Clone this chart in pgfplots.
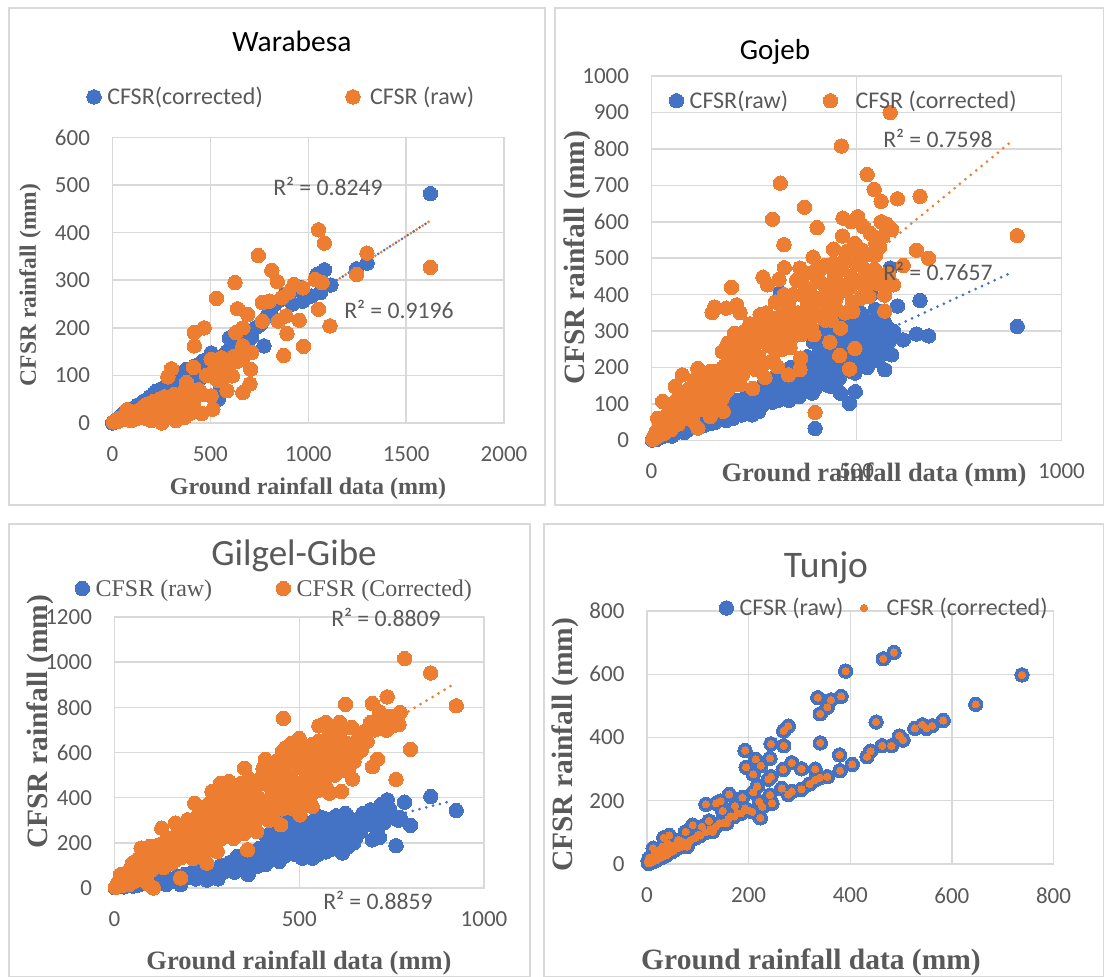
\documentclass[border=0pt]{standalone}
\usepackage{fontspec}
\setmainfont{Carlito}
\newfontfamily\tms{Liberation Serif}
\usepackage{pgfplots}
\usepackage{pgfplotstable}
\pgfplotsset{compat=1.18}
\definecolor{xblue}{HTML}{4472C4}
\definecolor{xor}{HTML}{ED7D31}
\definecolor{xgrid}{HTML}{D9D9D9}
\definecolor{xtxt}{HTML}{595959}
\pgfplotstableread[row sep=\\]{
x y\\ 738 598\\ 647 505\\ 583 454\\ 561 437\\ 550 429\\ 542 440\\ 527 429\\ 504 392\\ 497 405\\ 481 374\\ 463 374\\ 440 357\\ 433 339\\ 404 315\\ 380 295\\ 355 276\\ 340 273\\ 331 266\\ 320 253\\ 304 236\\ 285 229\\ 278 220\\ 486 669\\ 465 649\\ 391 610\\ 336 526\\ 382 530\\ 362 519\\ 355 496\\ 341 475\\ 451 449\\ 278 436\\ 269 421\\ 244 380\\ 269 374\\ 341 383\\ 379 345\\ 193 359\\ 214 331\\ 242 334\\ 224 311\\ 195 306\\ 209 284\\ 285 320\\ 304 301\\ 331 300\\ 268 299\\ 244 276\\ 239 268\\ 217 245\\ 209 227\\ 265 239\\ 242 218\\ 221 197\\ 246 192\\ 227 181\\ 223 146\\ 207 165\\ 193 176\\ 188 210\\ 162 220\\ 145 199\\ 116 189\\ 136 192\\ 149 168\\ 173 183\\ 178 160\\ 164 150\\ 143 129\\ 122 136\\ 108 118\\ 90 123\\ 76 102\\ 44 90\\ 33 83\\ 62 76\\ 86 76\\ 101 92\\ 129 102\\ 157 129\\ 79 55\\ 12 50\\ 5 5\\ 10 10\\ 8 20\\ 15 30\\ 20 25\\ 25 45\\ 30 30\\ 35 50\\ 40 40\\ 45 60\\ 50 50\\ 55 60\\ 20 15\\ 3 2\\ 12 8\\ 28 20\\ 38 28\\ 48 38\\ 60 50\\ 65 65\\ 70 70\\ 30 55\\ 40 65\\ 15 40\\ 5 20\\ 2 10\\ 7 4\\ 14 16\\ 18 12\\ 23 18\\ 26 32\\ 32 24\\ 36 38\\ 42 34\\ 46 48\\ 52 42\\ 57 50\\ 63 58\\ 68 55\\ 75 62\\ 82 68\\ 95 82\\ 105 90\\ 115 100\\ 125 110\\ 135 118\\ 150 130\\ 160 142\\ 172 150\\ 185 160\\ 198 170\\ 
}\tunjo
\pgfplotsset{
  panel/.style={
    scale only axis, clip=false, axis on top=false,
    axis line style={xgrid,line width=1.5pt},
    grid=major, major grid style={xgrid,line width=1.5pt},
    major tick length=0pt,
    tick label style={font=\fontsize{23}{26}\selectfont,text=xtxt},
    /pgf/number format/assume math mode=true,
    /pgf/number format/1000 sep={},
    scaled ticks=false,
    xticklabel shift=20pt, yticklabel shift=19pt,
    legend cell align=left,
    legend style={draw=none,fill=none,font=\fontsize{24}{27}\selectfont,text=xtxt,
      inner sep=0pt,anchor=west,/tikz/every odd column/.append style={column sep=4pt}},
  },
  blue dots/.style={only marks,mark=*,mark size=7.2pt,mark options={fill=xblue,draw=xblue,line width=0pt}},
  or dots/.style={only marks,mark=*,mark size=7.2pt,mark options={fill=xor,draw=xor,line width=0pt}},
  small or/.style={only marks,mark=*,mark size=3.6pt,mark options={fill=xor,draw=xor,line width=0pt}},
  trend/.style={no marks,line width=3pt,dash pattern=on 0pt off 7pt,line cap=round},
}
\newcommand{\rtxt}[3]{\node[text=xtxt,font=\fontsize{23.7}{26}\selectfont] at (#1pt,{(977-#2)*1pt}) {#3};}
\newcommand{\xlab}[4]{\node[text=xtxt,font={\tms\bfseries\fontsize{#4}{28}\selectfont}] at (#1pt,{(977-#2)*1pt}) {#3};}
\newcommand{\ylab}[4]{\node[rotate=90,text=xtxt,font={\tms\bfseries\fontsize{#4}{28}\selectfont}] at (#1pt,{(977-#2)*1pt}) {#3};}
\begin{document}
\begin{tikzpicture}
\path[use as bounding box] (0,0) rectangle (1104pt,977pt);
\draw[xgrid,line width=1.5pt] (9pt,{(977-8)*1pt}) rectangle (545pt,{(977-505)*1pt});
\draw[xgrid,line width=1.5pt] (555pt,{(977-8)*1pt}) rectangle (1104pt,{(977-505)*1pt});
\draw[xgrid,line width=1.5pt] (9pt,{(977-524)*1pt}) rectangle (530pt,0pt);
\draw[xgrid,line width=1.5pt] (544pt,{(977-524)*1pt}) rectangle (1104pt,0pt);

% ---------- Warabesa
\begin{axis}[panel,at={(112.5pt,554pt)},anchor=south west,width=391.5pt,height=285.5pt,
  xmin=0,xmax=2000,ymin=0,ymax=600,xtick={0,500,1000,1500,2000},ytick={0,100,...,600},
  legend columns=2,legend style={at={(-0.066,1.142)},/tikz/every even column/.append style={column sep=81pt}}]
\addplot[blue dots] coordinates {(0,0)(10,3)(20,4)(30,10)(40,14)(55,20)(70,16)(85,28)(100,22)(115,33)(130,38)(145,30)(160,46)(175,38)(190,55)(205,45)(220,66)(235,50)(250,72)(265,60)(280,58)(300,75)(320,82)(340,70)(360,100)(378,113)(395,95)(420,120)(440,90)(460,130)(480,120)(504,147)(520,120)(540,50)(414,36)(550,80)(560,140)(585,150)(597,179)(612,155)(640,170)(660,190)(684,190)(710,180)(730,200)(756,207)(774,162)(790,225)(810,239)(830,250)(864,260)(880,270)(920,250)(950,280)(963,284)(972,256)(1017,267)(1044,312)(1062,274)(1083,322)(1116,290)(1247,324)(1301,336)(1624,482)};
\addlegendentry{CFSR(corrected)}
\addplot[or dots] coordinates {(5,2)(15,5)(25,3)(35,10)(45,6)(60,15)(70,20)(75,28)(85,10)(95,5)(105,18)(115,8)(125,25)(135,12)(150,20)(160,35)(170,10)(180,40)(190,25)(200,5)(210,45)(220,30)(230,15)(240,50)(250,35)(255,5)(265,55)(275,25)(285,45)(295,15)(305,40)(315,60)(325,30)(335,50)(345,20)(355,40)(365,65)(375,30)(385,45)(395,20)(400,70)(420,55)(440,70)(460,60)(480,100)(520,110)(545,130)(580,100)(600,125)(620,140)(640,130)(1624,327)(1053,406)(1082,378)(1300,357)(745,352)(814,321)(842,297)(626,295)(531,262)(639,240)(691,228)(765,214)(765,253)(801,256)(864,263)(900,274)(927,291)(972,284)(1035,302)(1071,295)(1247,312)(1053,239)(1111,204)(954,216)(891,188)(976,161)(875,142)(846,214)(886,225)(468,200)(418,190)(418,162)(666,200)(630,190)(666,162)(711,148)(666,134)(706,113)(702,82)(666,64)(585,68)(612,99)(576,120)(504,134)(558,137)(630,141)(414,117)(301,114)(283,97)(504,99)(540,89)(504,57)(513,29)(455,20)(432,64)(378,85)(378,50)(414,43)(306,57)(324,5)(369,12)(252,0)};
\addlegendentry{\hspace{4pt}CFSR (raw)}
\addplot[trend,xblue,forget plot] coordinates {(0,0)(1624,425)};
\addplot[trend,xor,forget plot,dash phase=3.5pt] coordinates {(0,0)(1624,425)};
\end{axis}
\node[font=\fontsize{29.5}{33}\selectfont] at (292pt,{(977-41)*1pt}) {Warabesa};
\rtxt{328}{186}{R² = 0.8249}
\rtxt{399}{309}{R² = 0.9196}
\xlab{308}{489}{Ground rainfall data (mm)}{24}
\ylab{30}{285}{CFSR rainfall (mm)}{23.5}

% ---------- Gojeb
\begin{axis}[panel,at={(651.5pt,536.5pt)},anchor=south west,width=410pt,height=364.5pt,
  xmin=0,xmax=1000,ymin=0,ymax=1000,xtick={0,500,1000},ytick={0,100,...,1000},
  legend columns=2,legend style={at={(0.043,0.932)},/tikz/every even column/.append style={column sep=33pt}}]
\addplot[blue dots] coordinates {(2,1)(8,4)(15,6)(25,10)(35,14)(45,22)(55,18)(65,28)(75,24)(85,38)(100,35)(113,34)(125,50)(143,46)(150,70)(165,60)(175,90)(182,55)(195,75)(205,110)(215,85)(230,100)(240,130)(250,95)(262,80)(264,212)(275,120)(285,150)(295,105)(305,130)(315,175)(320,115)(330,145)(340,200)(350,130)(360,120)(370,165)(380,230)(390,190)(400,145)(405,162)(410,250)(420,210)(430,180)(440,148)(445,270)(455,230)(461,130)(466,340)(470,290)(480,250)(483,102)(490,205)(497,134)(500,320)(510,270)(520,300)(530,223)(540,260)(550,335)(560,280)(569,194)(570,320)(575,250)(586,235)(600,369)(582,473)(614,276)(646,292)(655,384)(676,287)(892,313)(399,33)(314,406)(440,303)(496,185)(530,322)(564,331)(510,350)(480,310)(535,400)(455,320)(420,290)(395,270)
(12,3)(20,8)(30,12)(40,18)(50,12)(60,24)(70,30)(80,22)(90,30)(95,45)(108,40)(118,52)(130,42)(138,60)(155,50)(160,85)(172,65)(188,70)(198,60)(210,90)(220,70)(225,115)(235,85)(245,70)(255,110)(268,95)(272,150)(280,105)(290,125)(298,170)(308,110)(312,140)(325,125)(328,170)(335,110)(345,150)(348,190)(355,120)(365,180)(372,140)(378,200)(385,160)(392,130)(398,220)(402,180)(412,165)(418,240)(425,200)(432,150)(438,230)(446,190)(452,270)(458,170)(463,230)(468,210)(474,320)(478,280)(486,190)(494,240)(502,300)(506,220)(514,250)(522,330)(526,200)(532,290)(538,240)(546,310)(552,220)(558,290)(565,240)(572,300)(578,270)(590,300)(545,360)(525,280)(505,280)(485,330)(440,320)(430,260)(410,300)};
\addlegendentry{CFSR(raw)}
\addplot[trend,xor,forget plot] coordinates {(0,10)(882,824)};
\addplot[or dots] coordinates {(3,3)(6,12)(10,8)(12,25)(18,18)(20,40)(25,28)(27,107)(15,61)(30,55)(35,30)(40,75)(45,45)(50,95)(55,60)(58,148)(60,110)(65,45)(70,80)(75,180)(75,120)(85,70)(90,140)(95,100)(100,55)(105,165)(113,198)(113,34)(115,120)(125,85)(130,150)(135,175)(143,189)(143,66)(150,120)(155,95)(160,165)(148,351)(154,366)(165,140)(173,244)(175,80)(182,363)(185,195)(186,267)(195,420)(195,150)(202,294)(204,239)(208,372)(210,180)(216,351)(216,153)(225,265)(229,281)(234,212)(240,320)(247,143)(251,303)(255,194)(260,270)(265,345)(272,448)(277,173)(283,427)(285,310)(295,607)(298,331)(300,250)(307,203)(311,442)(314,706)(320,300)(323,537)(324,474)(330,360)(334,180)(340,280)(345,400)(350,330)(362,473)(362,194)(364,226)(365,290)(373,640)(375,420)(380,370)(390,310)(394,503)(399,77)(404,584)(405,440)(410,468)(420,380)(425,330)(435,270)(440,420)(444,525)(444,486)(459,233)(450,390)(461,308)(463,808)(466,561)(467,610)(470,495)(475,410)(483,196)(487,600)(487,450)(491,354)(496,253)(496,541)(500,482)(503,614)(510,390)(513,523)(517,587)(526,730)(530,431)(530,395)(534,568)(543,689)(547,541)(547,509)(560,656)(560,600)(560,454)(569,399)(569,355)(573,594)(582,900)(586,579)(590,427)(600,663)(614,480)(646,522)(655,670)(676,500)(892,562)
(20,15)(22,30)(32,20)(38,42)(42,62)(48,30)(52,50)(62,75)(68,55)(72,100)(78,90)(82,60)(88,110)(92,85)(98,125)(102,75)(108,145)(110,100)(118,90)(120,160)(128,110)(132,130)(138,100)(140,165)(146,140)(152,105)(158,190)(162,125)(168,170)(172,115)(178,205)(183,135)(188,225)(192,170)(198,250)(206,200)(212,280)(218,220)(222,180)(228,300)(232,250)(238,210)(244,270)(250,235)(256,320)(262,230)(268,290)(274,210)(280,350)(286,260)(292,300)(296,220)(302,380)(306,275)(312,340)(318,250)(324,400)(328,310)(334,370)(338,255)(344,330)(348,290)(354,440)(358,350)(366,400)(370,300)(376,460)(382,330)(386,410)(392,360)(396,290)(402,470)(408,390)(414,340)(418,430)(424,480)(428,370)(434,410)(438,330)(446,450)(452,360)(458,430)(464,470)(472,350)(478,520)(484,420)(490,380)(498,440)(506,500)(512,430)(520,470)(528,510)(536,440)(544,470)(552,430)(556,530)(564,560)(572,420)(578,460)(580,440)};
\addlegendentry{\hspace{12pt}CFSR (corrected)}
\addplot[trend,xblue,forget plot] coordinates {(0,5)(882,463)};
\end{axis}
\node[font=\fontsize{29}{33}\selectfont] at (775pt,{(977-52)*1pt}) {Gojeb};
\rtxt{938}{138}{R² = 0.7598}
\rtxt{938}{271}{R² = 0.7657}
\xlab{874}{475}{Ground rainfall data (mm)}{26.5}
\ylab{577}{258}{CFSR rainfall (mm)}{29.5}

% ---------- Gilgel-Gibe
\begin{axis}[panel,at={(114.5pt,89pt)},anchor=south west,width=369.5pt,height=271pt,
  xmin=0,xmax=1000,ymin=0,ymax=1200,xtick={0,500,1000},ytick={0,200,...,1200},
  legend columns=2,legend style={at={(-0.107,1.105)},font={\tms\fontsize{24}{27}\selectfont},/tikz/every even column/.append style={column sep=62pt}}]
\addplot[blue dots] coordinates {(2,1)(10,5)(20,8)(35,10)(45,15)(60,12)(75,25)(90,20)(105,30)(120,25)(140,15)(160,30)(179,15)(190,60)(205,50)(220,40)(235,80)(250,35)(265,70)(280,40)(295,90)(310,110)(325,70)(340,130)(350,85)(362,59)(375,150)(385,95)(400,160)(408,103)(420,190)(435,130)(446,118)(450,210)(465,170)(475,280)(490,240)(500,190)(508,132)(515,290)(525,220)(535,132)(545,280)(555,180)(565,310)(575,240)(585,170)(595,300)(605,220)(617,155)(625,330)(635,270)(647,199)(655,300)(665,250)(680,310)(693,346)(698,213)(705,340)(717,224)(725,330)(738,390)(750,320)(762,187)(773,312)(785,380)(801,277)(856,405)(925,343)(410,230)(430,260)(460,300)(480,200)(510,250)(520,150)(540,210)(560,260)(580,200)(600,270)(620,240)(640,240)(660,290)
(25,5)(50,8)(68,15)(80,30)(95,15)(112,25)(130,45)(150,40)(170,50)(198,45)(212,70)(228,65)(242,85)(255,70)(272,60)(288,100)(302,75)(315,115)(322,90)(332,140)(345,100)(358,120)(368,160)(380,125)(392,175)(402,140)(415,130)(425,200)(440,170)(452,240)(458,140)(470,230)(485,150)(495,260)(505,170)(512,210)(528,270)(532,170)(548,240)(552,150)(568,200)(572,280)(590,240)(598,190)(612,290)(622,210)(632,310)(642,260)(652,220)(668,270)(672,330)(685,280)(700,300)(712,260)(722,370)(730,290)(745,350)(755,310)(768,300)(630,180)(610,170)(572,160)(490,300)(548,320)(600,320)(520,250)};
\addlegendentry{CFSR (raw)}
\addplot[trend,xor,forget plot] coordinates {(0,0)(924,908)};
\addplot[or dots] coordinates {(3,3)(6,14)(10,25)(16,59)(20,10)(28,40)(35,70)(40,15)(49,110)(55,30)(60,85)(65,130)(72,177)(75,60)(85,110)(90,20)(95,184)(100,80)(105,0)(108,130)(115,160)(125,100)(128,265)(135,140)(137,206)(145,185)(155,110)(165,287)(170,170)(179,44)(180,135)(190,210)(198,302)(205,170)(217,375)(220,240)(231,280)(240,150)(245,320)(250,110)(254,371)(264,427)(270,280)(278,162)(287,464)(290,220)(296,420)(300,340)(310,471)(318,250)(330,300)(343,464)(343,383)(352,530)(355,280)(360,169)(370,350)(380,412)(385,250)(395,310)(399,493)(408,570)(415,380)(425,440)(441,383)(450,280)(455,606)(457,751)(465,500)(479,640)(485,420)(495,560)(500,662)(502,324)(510,470)(520,590)(530,420)(535,636)(535,361)(545,540)(553,718)(560,480)(572,733)(577,434)(584,692)(590,560)(600,633)(609,733)(614,427)(623,633)(625,813)(630,540)(642,711)(644,483)(661,633)(679,670)(693,733)(698,817)(698,537)(712,570)(717,780)(717,721)(736,699)(738,846)(762,481)(770,724)(773,777)(785,1016)(801,614)(856,952)(925,807)
(12,30)(22,25)(25,50)(30,20)(32,60)(38,45)(42,80)(46,30)(52,70)(56,100)(62,50)(68,90)(70,130)(78,85)(82,120)(88,60)(92,150)(98,110)(102,175)(110,95)(112,140)(118,190)(122,120)(130,165)(132,90)(140,130)(142,220)(148,170)(152,150)(158,200)(162,120)(168,235)(175,190)(178,150)(185,260)(188,210)(195,170)(200,270)(208,230)(212,130)(215,300)(222,200)(228,330)(234,240)(238,180)(242,290)(248,350)(252,210)(258,310)(262,260)(268,370)(272,200)(276,330)(282,250)(285,400)(292,300)(298,230)(302,370)(306,280)(312,430)(316,330)(322,220)(326,390)(335,280)(338,440)(346,340)(350,240)(358,410)(362,300)(366,480)(374,360)(378,290)(382,450)(390,400)(393,330)(402,530)(405,350)(412,460)(418,300)(422,510)(428,400)(432,340)(438,560)(442,460)(448,520)(453,350)(458,440)(462,620)(468,560)(472,400)(478,490)(483,350)(488,600)(492,460)(498,540)(504,420)(508,610)(512,380)(518,510)(524,570)(528,470)(532,370)(538,590)(542,500)(548,430)(552,650)(556,540)(562,610)(568,470)(574,560)(578,660)(582,420)(586,520)(592,620)(596,500)(604,570)(610,680)(616,520)(622,590)(628,640)(634,530)(638,620)(648,560)(654,650)(668,610)(672,690)(684,650)(690,710)(705,700)(726,740)(745,760)(755,720)(660,600)(640,580)};
\addlegendentry{CFSR (Corrected)}
\addplot[trend,xblue,forget plot] coordinates {(0,0)(913,386)};
\end{axis}
\node[text=xtxt,font=\fontsize{37}{40}\selectfont] at (294pt,{(977-556)*1pt}) {Gilgel-Gibe};
\rtxt{386}{617}{R² = 0.8809}
\rtxt{378}{900}{R² = 0.8859}
\xlab{299}{963}{Ground rainfall data (mm)}{26.5}
\ylab{40}{722}{CFSR rainfall (mm)}{29.5}

% ---------- Tunjo
\begin{axis}[panel,at={(647pt,113pt)},anchor=south west,width=406.5pt,height=253pt,
  xmin=0,xmax=800,ymin=0,ymax=800,xtick={0,200,...,800},ytick={0,200,...,800},
  legend columns=2,legend style={at={(0.177,1.012)},/tikz/every even column/.append style={column sep=15pt}}]
\addplot[blue dots] table[x=x,y=y] {\tunjo};
\addlegendentry{CFSR (raw)}
\addplot[small or] table[x=x,y=y] {\tunjo};
\addlegendentry{\hspace{13pt}CFSR (corrected)}
\end{axis}
\node[text=xtxt,font=\fontsize{37.5}{40}\selectfont] at (826pt,{(977-568)*1pt}) {Tunjo};
\xlab{811}{962}{Ground rainfall data (mm)}{29.5}
\ylab{565}{745}{CFSR rainfall (mm)}{29.5}
\end{tikzpicture}
\end{document}
